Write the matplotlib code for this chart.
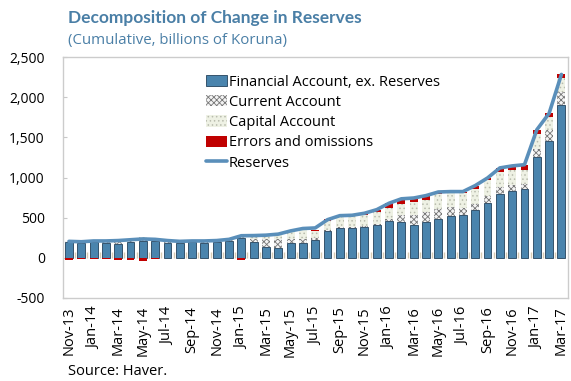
import numpy as np
import matplotlib
matplotlib.use("Agg")
import matplotlib.pyplot as plt

plt.rcParams['font.family'] = ['Open Sans', 'DejaVu Sans']
plt.rcParams['hatch.linewidth'] = 0.6

months = ["Nov-13", "Dec-13", "Jan-14", "Feb-14", "Mar-14", "Apr-14", "May-14", "Jun-14",
          "Jul-14", "Aug-14", "Sep-14", "Oct-14", "Nov-14", "Dec-14", "Jan-15", "Feb-15",
          "Mar-15", "Apr-15", "May-15", "Jun-15", "Jul-15", "Aug-15", "Sep-15", "Oct-15",
          "Nov-15", "Dec-15", "Jan-16", "Feb-16", "Mar-16", "Apr-16", "May-16", "Jun-16",
          "Jul-16", "Aug-16", "Sep-16", "Oct-16", "Nov-16", "Dec-16", "Jan-17", "Feb-17",
          "Mar-17"]

financial = [195, 190, 200, 190, 170, 200, 215, 210, 190, 185, 195, 190, 200, 215, 245, 195,
             135, 120, 180, 180, 225, 330, 375, 375, 390, 410, 455, 450, 410, 445, 485, 515,
             535, 590, 685, 800, 830, 855, 1260, 1455, 1910]
current = [10, 10, 10, 15, 35, 25, 25, 15, 15, 10, 5, 15, 10, 10, 15, 40,
           100, 120, 55, 55, 20, 20, 10, 10, 10, 10, 30, 85, 120, 125, 125, 115,
           85, 85, 85, 85, 80, 70, 95, 135, 160]
capital = [5, 5, 5, 5, 10, 10, 15, 10, 10, 5, 5, 5, 5, 5, 25, 35,
           45, 55, 100, 115, 95, 105, 130, 130, 135, 150, 135, 140, 160, 145, 190, 190,
           185, 185, 195, 185, 190, 165, 185, 165, 165]
errors = [-25, -15, -10, -10, -25, -25, -45, -15, -5, -5, 0, -5, 0, 0, -25, 0,
          0, 5, 5, 10, 10, 25, 20, 15, 20, 30, 60, 60, 55, 60, 20, 5,
          15, 40, 30, 50, 45, 70, 55, 45, 50]
reserves = [205, 200, 210, 210, 215, 225, 235, 230, 215, 205, 210, 210, 215, 230, 275, 277,
            282, 295, 335, 365, 372, 475, 525, 530, 555, 600, 680, 735, 745, 775, 820, 825,
            825, 900, 995, 1120, 1145, 1160, 1595, 1800, 2285]

series = [
    ("Financial Account, ex. Reserves", financial, dict(facecolor="#4a84ad", edgecolor="#23425c", linewidth=0.6)),
    ("Current Account", current, dict(facecolor="#f4f4f4", edgecolor="#777777", hatch="xxxxxx", linewidth=0)),
    ("Capital Account", capital, dict(facecolor="#eef1e4", edgecolor="#b9bcae", hatch="....", linewidth=0)),
    ("Errors and omissions", errors, dict(facecolor="#c00000", edgecolor="#c00000", linewidth=0)),
]

fig = plt.figure(figsize=(5.71, 3.81), dpi=100)
ax = fig.add_axes([0.110, 0.218, 0.884, 0.632])

x = np.arange(len(months))
pos_base = np.zeros(len(months))
neg_base = np.zeros(len(months))
handles = []
for label, vals, style in series:
    v = np.array(vals, dtype=float)
    bottom = np.where(v >= 0, pos_base, neg_base)
    b = ax.bar(x, v, width=0.64, bottom=bottom, label=label, zorder=2, **style)
    handles.append(b)
    pos_base = pos_base + np.where(v > 0, v, 0)
    neg_base = neg_base + np.where(v < 0, v, 0)

line, = ax.plot(x, reserves, color="#5a8fba", linewidth=2.6, label="Reserves", zorder=3,
                solid_capstyle="round")
handles.append(line)

# category tick marks at zero line
ax.vlines(x[:-1] + 0.5, 0, 70, color="#d8cbb2", linewidth=1, zorder=1)

ax.set_xlim(-0.5, len(months) - 0.5)
ax.set_ylim(-500, 2500)
ax.set_yticks(np.arange(-500, 2501, 500))
ax.set_yticklabels([f"{v:,}" for v in np.arange(-500, 2501, 500)], fontsize=10)
ax.tick_params(axis='y', direction='in', length=3, color="#c8c8c8", pad=13)

ax.set_xticks(x[::2])
ax.set_xticklabels(months[::2], rotation=90, fontsize=10.5)
ax.tick_params(axis='x', length=0, pad=6)

for s in ax.spines.values():
    s.set_color("#cccccc")
    s.set_linewidth(1)

leg = ax.legend(handles=handles, loc="upper left", bbox_to_anchor=(0.272, 0.952), frameon=False,
                fontsize=10.5, handlelength=1.45, handleheight=0.8, handletextpad=0.1,
                labelspacing=0.36, borderaxespad=0)

fig.text(0.119, 0.952, "Decomposition of Change in Reserves", fontsize=12.5, fontweight="bold",
         family=["Lato", "DejaVu Sans"], color="#4a7fa6", va="center", ha="left")
fig.text(0.119, 0.895, "(Cumulative, billions of Koruna)", fontsize=10.8, color="#4a7fa6",
         va="center", ha="left")
fig.text(0.119, 0.024, "Source: Haver.", fontsize=10.5, color="black", va="center", ha="left")

fig.savefig("out.png", dpi=100)
